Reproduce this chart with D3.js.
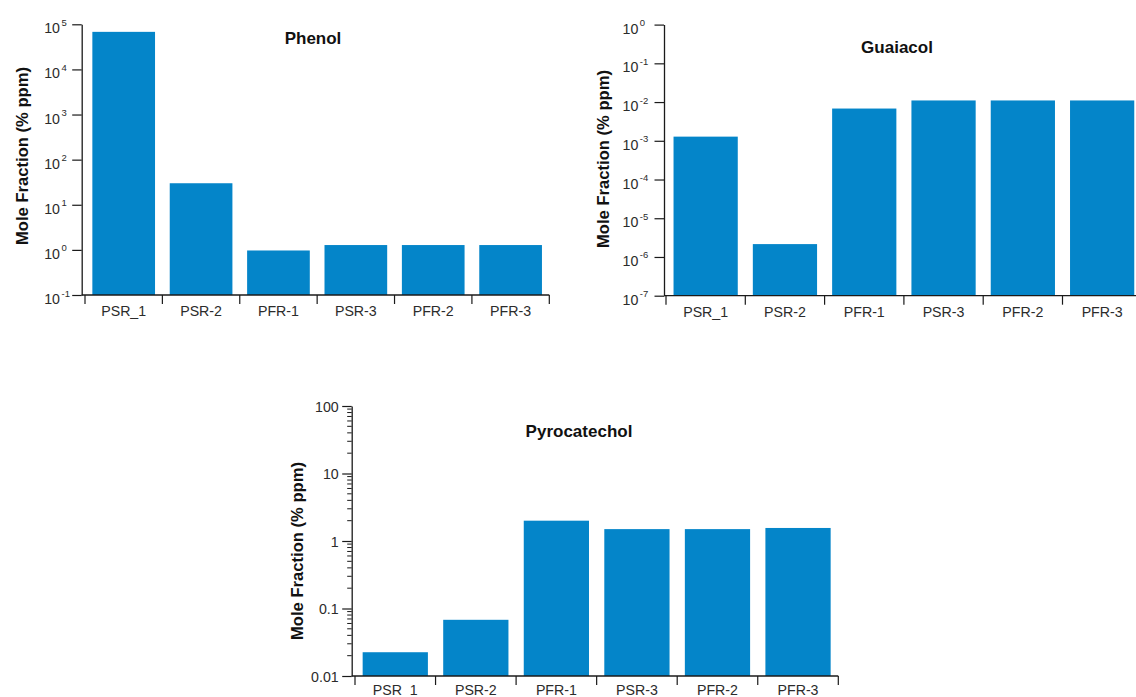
<!DOCTYPE html>
<html>
<head>
<meta charset="utf-8">
<script src="https://cdn.jsdelivr.net/npm/d3@7"></script>
<style>
  html, body { margin: 0; padding: 0; background: #fff; }
  svg { display: block; }
  text { font-family: "Liberation Sans", Arial, Helvetica, sans-serif; }
</style>
</head>
<body>
<svg id="chart" width="1136" height="697"></svg>
<script>
// Reactor runs shared by all three panels
const categories = ["PSR_1", "PSR-2", "PFR-1", "PSR-3", "PFR-2", "PFR-3"];

// Mole fractions (% ppm) per compound
const phenolValues = [68000, 30, 0.97, 1.28, 1.28, 1.28];
const guaiacolValues = [1.28e-3, 2.15e-6, 6.8e-3, 1.1e-2, 1.1e-2, 1.1e-2];
const pyrocatecholValues = [0.0225, 0.068, 2.0, 1.5, 1.5, 1.56];

// Decade exponents shown on the power-of-ten axes
const phenolExponents = [-1, 0, 1, 2, 3, 4, 5];
const guaiacolExponents = [-7, -6, -5, -4, -3, -2, -1, 0];

// Plain tick labels on the pyrocatechol axis
const pyrocatecholTicks = [0.01, 0.1, 1, 10, 100];
const pyrocatecholTickLabels = ["0.01", "0.1", "1", "10", "100"];

const yTitle = "Mole Fraction (% ppm)";
const barColor = "#0485c9";
const inkColor = "#1a1a1a";
const labelColor = "#2b2b2b";

const svg = d3.select("#chart");

function drawPanel(opts) {
  const g = svg.append("g");
  const x = d3.scaleBand()
    .domain(categories)
    .range([opts.x0, opts.x1])
    .paddingInner(0.19)
    .paddingOuter(0.095);
  const y = d3.scaleLog()
    .domain(opts.yDomain)
    .range([opts.yBottom, opts.yTop]);

  // Bars
  g.selectAll("rect.bar")
    .data(opts.values)
    .join("rect")
    .attr("class", "bar")
    .attr("x", (d, i) => x(categories[i]))
    .attr("width", x.bandwidth())
    .attr("y", d => y(d))
    .attr("height", d => opts.yBottom - y(d))
    .attr("fill", barColor);

  // Category axis: baseline from the y axis to the last separator, ticks between bars
  const step = x.step();
  const seps = d3.range(categories.length + 1).map(i => opts.x0 + i * step);
  g.append("line")
    .attr("x1", opts.axisX).attr("x2", seps[seps.length - 1])
    .attr("y1", opts.yBottom).attr("y2", opts.yBottom)
    .attr("stroke", inkColor).attr("stroke-width", 1.3);
  g.selectAll("line.sep")
    .data(seps)
    .join("line")
    .attr("class", "sep")
    .attr("x1", d => d).attr("x2", d => d)
    .attr("y1", opts.yBottom).attr("y2", opts.yBottom + 9)
    .attr("stroke", inkColor).attr("stroke-width", 1.2);
  g.selectAll("text.cat")
    .data(categories)
    .join("text")
    .attr("class", "cat")
    .attr("x", d => x(d) + x.bandwidth() / 2)
    .attr("y", opts.yBottom + opts.catDy)
    .attr("text-anchor", "middle")
    .attr("font-size", "14.2px")
    .attr("fill", labelColor)
    .text(d => d);

  // Value axis
  const axisG = g.append("g").attr("transform", `translate(${opts.axisX},0)`);
  const axis = d3.axisLeft(y)
    .tickValues(opts.tickValues)
    .tickSize(9.5)
    .tickSizeOuter(0)
    .tickFormat(() => "");
  axisG.call(axis);
  axisG.select(".domain").attr("stroke", inkColor).attr("stroke-width", 1.3);
  axisG.selectAll(".tick line").attr("stroke", inkColor).attr("stroke-width", 1.2);

  if (opts.minor) {
    const minorVals = [];
    const [lo, hi] = opts.yDomain;
    for (let dec = lo; dec < hi; dec *= 10) {
      for (let k = 2; k <= 9; k++) minorVals.push(dec * k);
    }
    axisG.selectAll("line.minor")
      .data(minorVals)
      .join("line")
      .attr("class", "minor")
      .attr("x1", -4.5).attr("x2", 0)
      .attr("y1", d => y(d)).attr("y2", d => y(d))
      .attr("stroke", inkColor).attr("stroke-width", 1);
  }

  if (opts.exponents) {
    // "10" with a raised exponent
    axisG.selectAll(".tick").each(function(d, i) {
      const t = d3.select(this).append("text")
        .attr("x", -opts.labelOffset)
        .attr("y", 8.5)
        .attr("text-anchor", "start")
        .attr("fill", labelColor)
        .attr("font-size", "14.2px");
      t.append("tspan").text("10");
      t.append("tspan")
        .attr("dx", 1.5)
        .attr("dy", -7.5)
        .attr("font-size", "9.5px")
        .text(String(opts.exponents[i]));
    });
  } else {
    axisG.selectAll(".tick").each(function(d, i) {
      d3.select(this).append("text")
        .attr("x", -13)
        .attr("y", 5)
        .attr("text-anchor", "end")
        .attr("fill", labelColor)
        .attr("font-size", "14.2px")
        .text(opts.tickLabels[i]);
    });
  }

  // Axis title
  g.append("text")
    .attr("transform", `translate(${opts.titleX},${opts.titleY}) rotate(-90)`)
    .attr("text-anchor", "middle")
    .attr("font-size", "16.6px")
    .attr("font-weight", "bold")
    .attr("fill", "#111")
    .text(yTitle);

  // Panel heading
  g.append("text")
    .attr("x", opts.headX)
    .attr("y", opts.headY)
    .attr("text-anchor", "middle")
    .attr("font-size", "17px")
    .attr("font-weight", "bold")
    .attr("fill", "#111")
    .text(opts.heading);
}

drawPanel({
  heading: "Phenol",
  values: phenolValues,
  yDomain: [1e-1, 1e5],
  tickValues: phenolExponents.map(e => Math.pow(10, e)),
  exponents: phenolExponents,
  labelOffset: 37.5,
  axisX: 81.7,
  x0: 85, x1: 549.3,
  yBottom: 295, yTop: 24.3,
  catDy: 21,
  titleX: 28, titleY: 156,
  headX: 313, headY: 43.5
});

drawPanel({
  heading: "Guaiacol",
  values: guaiacolValues,
  yDomain: [1e-7, 1],
  tickValues: guaiacolExponents.map(e => Math.pow(10, e)),
  exponents: guaiacolExponents,
  labelOffset: 41.5,
  axisX: 664,
  x0: 666, x1: 1141.8,
  yBottom: 295.7, yTop: 24.6,
  catDy: 21,
  titleX: 609, titleY: 159,
  headX: 897, headY: 53
});

drawPanel({
  heading: "Pyrocatechol",
  values: pyrocatecholValues,
  yDomain: [0.01, 100],
  tickValues: pyrocatecholTicks,
  tickLabels: pyrocatecholTickLabels,
  minor: true,
  axisX: 351.7,
  x0: 355, x1: 838.3,
  yBottom: 676, yTop: 406,
  catDy: 18.5,
  titleX: 303, titleY: 551,
  headX: 579, headY: 436.5
});
</script>
</body>
</html>
